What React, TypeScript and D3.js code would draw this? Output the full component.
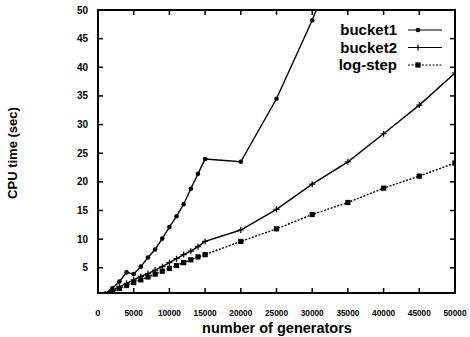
import * as d3 from "d3";

const generators = [1000, 2000, 3000, 4000, 5000, 6000, 7000, 8000, 9000, 10000, 11000, 12000, 13000, 14000, 15000, 20000, 25000, 30000, 35000, 40000, 45000, 50000];
const bucket1 = [0.5, 1.4, 2.6, 4.2, 3.9, 5.2, 6.8, 8.2, 10.1, 12.1, 14.0, 16.1, 18.8, 21.4, 24.0, 23.5, 34.5, 48.2, 64, 82, 101, 122];
const bucket2 = [0.3, 1.0, 1.7, 2.3, 2.9, 3.5, 4.0, 4.6, 5.2, 5.9, 6.6, 7.3, 7.9, 8.7, 9.6, 11.6, 15.2, 19.6, 23.5, 28.4, 33.4, 39.0];
const logStep = [0.3, 0.8, 1.4, 1.9, 2.4, 2.9, 3.4, 3.9, 4.4, 4.9, 5.4, 5.9, 6.4, 6.9, 7.3, 9.6, 11.8, 14.3, 16.4, 18.9, 21.0, 23.3];
const xTicks = [0, 5000, 10000, 15000, 20000, 25000, 30000, 35000, 40000, 45000, 50000];
const yTicks = [5, 10, 15, 20, 25, 30, 35, 40, 45, 50];
const seriesNames = ["bucket1", "bucket2", "log-step"];

const W = 470;
const H = 337;
const font = "'Liberation Sans', Arial, sans-serif";

export default function App() {
  const x = d3.scaleLinear().domain([0, 50000]).range([98, 455]);
  const y = d3.scaleLinear().domain([0.6, 50]).range([293, 10]);
  const line = d3
    .line<number>()
    .x((_, i) => x(generators[i]))
    .y((d) => y(d));

  const series = [bucket1, bucket2, logStep];
  const [x0, x1] = x.range();
  const [yb, yt] = y.range();

  // gnuplot-style point types: dot, plus, filled square
  const marker = (k: number, cx: number, cy: number, key: string) => {
    if (k === 0) return <circle key={key} cx={cx} cy={cy} r={2.3} fill="#000" />;
    if (k === 1)
      return (
        <path key={key} d={`M${cx - 3},${cy}H${cx + 3}M${cx},${cy - 3}V${cy + 3}`} stroke="#000" strokeWidth={1.2} />
      );
    return <rect key={key} x={cx - 2.6} y={cy - 2.6} width={5.2} height={5.2} fill="#000" />;
  };

  return (
    <svg width={W} height={H} style={{ position: "absolute", left: 0, top: 0, background: "#fff" }}>
      <defs>
        <clipPath id="plot">
          <rect x={x0} y={yt} width={x1 - x0} height={yb - yt} />
        </clipPath>
      </defs>
      <g clipPath="url(#plot)">
        {series.map((s, k) => (
          <path
            key={k}
            d={line(s) ?? ""}
            fill="none"
            stroke="#000"
            strokeWidth={1.4}
            strokeDasharray={k === 2 ? "2,1.5" : undefined}
          />
        ))}
        {series.map((s, k) => s.map((v, i) => marker(k, x(generators[i]), y(v), `${k}-${i}`)))}
      </g>
      <rect x={x0} y={yt} width={x1 - x0} height={yb - yt} fill="none" stroke="#000" strokeWidth={2} />
      {xTicks.map((t) => (
        <g key={t}>
          <line x1={x(t)} x2={x(t)} y1={yb} y2={yb - 5} stroke="#000" strokeWidth={1.5} />
          <line x1={x(t)} x2={x(t)} y1={yt} y2={yt + 5} stroke="#000" strokeWidth={1.5} />
          <text
            x={x(t)}
            y={316}
            textAnchor="middle"
            fontFamily={font}
            fontWeight="bold"
            fontSize={9.5}
            textLength={t === 0 ? undefined : String(t).length * 4.6}
            lengthAdjust="spacingAndGlyphs"
          >
            {t}
          </text>
        </g>
      ))}
      {yTicks.map((t) => (
        <g key={t}>
          <line x1={x0} x2={x0 + 5} y1={y(t)} y2={y(t)} stroke="#000" strokeWidth={1.5} />
          <line x1={x1} x2={x1 - 5} y1={y(t)} y2={y(t)} stroke="#000" strokeWidth={1.5} />
          <text x={88} y={y(t) + 3.5} textAnchor="end" fontFamily={font} fontWeight="bold" fontSize={10}>
            {t}
          </text>
        </g>
      ))}
      {seriesNames.map((n, k) => {
        const ly = 30 + k * 17.5;
        return (
          <g key={n}>
            <text x={397} y={ly + 5} textAnchor="end" fontFamily={font} fontWeight="bold" fontSize={15}>
              {n}
            </text>
            <line
              x1={408}
              x2={442}
              y1={ly}
              y2={ly}
              stroke="#000"
              strokeWidth={1.2}
              strokeDasharray={k === 2 ? "2,1.5" : undefined}
            />
            {marker(k, 418, ly, `lg${k}`)}
          </g>
        );
      })}
      <text x={277} y={333} textAnchor="middle" fontFamily={font} fontWeight="bold" fontSize={14.5}>
        number of generators
      </text>
      <text
        transform="translate(17,153) rotate(-90)"
        textAnchor="middle"
        fontFamily={font}
        fontWeight="bold"
        fontSize={13}
      >
        CPU time (sec)
      </text>
    </svg>
  );
}
